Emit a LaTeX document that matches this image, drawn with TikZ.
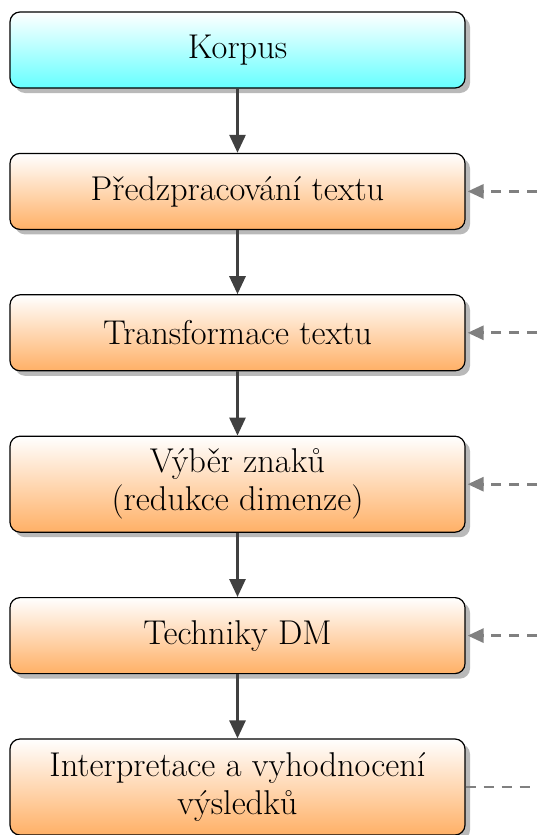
\documentclass[tikz,border=0pt]{standalone}
\usepackage{fontspec}
\usetikzlibrary{positioning,shadows,arrows.meta}
\definecolor{stagecyan}{RGB}{102,255,255}
\definecolor{stageorange}{RGB}{255,176,102}
\definecolor{flowgray}{RGB}{64,64,64}
\definecolor{backgray}{RGB}{128,128,128}
\begin{document}
\begin{tikzpicture}[font=\fontsize{17.2}{19}\selectfont,node distance=32.1pt,
    stage/.style={draw=black,line width=.6pt,rounded corners=5pt,
      minimum width=227.5pt,minimum height=38pt,align=center,
      top color=white,bottom color=stageorange,
      drop shadow={shadow xshift=2.5pt,shadow yshift=-2.5pt,opacity=.55}},
    flow/.style={flowgray,line width=1.4pt,-{Triangle[length=9pt,width=8pt]}},
    back/.style={backgray,line width=1.4pt,dash pattern=on 5pt off 4pt}]
    \useasboundingbox (0,0) rectangle (268.5pt,-417.5pt);
    \node[stage,bottom color=stagecyan] (korpus) at (118.75pt,-25pt) {Korpus};
    \node[stage,below=of korpus] (predz) {Předzpracování textu};
    \node[stage,below=of predz] (transf) {Transformace textu};
    \node[stage,minimum height=48pt,below=of transf] (vyber)
      {Výběr znaků\\(redukce dimenze)};
    \node[stage,below=of vyber] (techn) {Techniky DM};
    \node[stage,minimum height=48pt,below=of techn] (interp)
      {Interpretace a vyhodnocení\\výsledků};
    \draw[flow] (korpus)--(predz);
    \draw[flow] (predz)--(transf);
    \draw[flow] (transf)--(vyber);
    \draw[flow] (vyber)--(techn);
    \draw[flow] (techn)--(interp);

    % zpetna vazba z prave strany
    \coordinate (fb2) at (predz.east -| 268.5pt,0);
    \coordinate (fb3) at (transf.east -| 268.5pt,0);
    \coordinate (fb4) at (vyber.east -| 268.5pt,0);
    \coordinate (fb5) at (techn.east -| 268.5pt,0);
    \coordinate (fb6) at (interp.east -| 268.5pt,0);
    \draw[back,-{Triangle[length=8pt,width=7pt]}] (fb2)--([xshift=1pt]predz.east);
    \draw[back,-{Triangle[length=8pt,width=7pt]}] (fb3)--([xshift=1pt]transf.east);
    \draw[back,-{Triangle[length=8pt,width=7pt]}] (fb4)--([xshift=1pt]vyber.east);
    \draw[back,-{Triangle[length=8pt,width=7pt]}] (fb5)--([xshift=1pt]techn.east);
    \draw[back] (interp.east)--(fb6);
\end{tikzpicture}
\end{document}
